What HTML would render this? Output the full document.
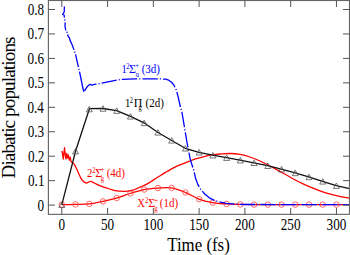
<!DOCTYPE html>
<html><head><meta charset="utf-8"><style>
html,body{margin:0;padding:0;background:#fff;}
svg{display:block;}
text{font-family:"Liberation Serif",serif;}
</style></head><body>
<svg width="350" height="255" viewBox="0 0 350 255">
<rect x="0" y="0" width="350" height="255" fill="#fff"/>
<g fill="none" stroke-linejoin="round">
<path d="M61.80,204.60C64.08,204.57 70.92,204.52 75.50,204.40C80.08,204.28 84.72,204.40 89.30,203.90C93.88,203.40 98.47,202.37 103.00,201.40C107.53,200.43 111.97,199.42 116.50,198.10C121.03,196.78 125.62,194.92 130.20,193.50C134.78,192.08 139.42,190.50 144.00,189.60C148.58,188.70 153.13,188.40 157.70,188.10C162.27,187.80 166.82,187.10 171.40,187.80C175.98,188.50 180.62,190.42 185.20,192.30C189.78,194.18 194.33,197.38 198.90,199.10C203.47,200.82 208.02,201.80 212.60,202.60C217.18,203.40 221.83,203.60 226.40,203.90C230.97,204.20 235.45,204.28 240.00,204.40C244.55,204.52 249.13,204.57 253.70,204.60C258.27,204.63 262.83,204.60 267.40,204.60C271.97,204.60 267.42,204.60 281.10,204.60C294.78,204.60 338.10,204.60 349.50,204.60" stroke="#f00" stroke-width="1.3"/>
<g stroke="#f44" stroke-width="0.8"><circle cx="61.80" cy="204.60" r="2.75"/><circle cx="75.53" cy="204.40" r="2.75"/><circle cx="89.27" cy="203.90" r="2.75"/><circle cx="103.00" cy="201.40" r="2.75"/><circle cx="116.73" cy="198.02" r="2.75"/><circle cx="130.46" cy="193.43" r="2.75"/><circle cx="144.19" cy="189.58" r="2.75"/><circle cx="157.93" cy="188.10" r="2.75"/><circle cx="171.66" cy="187.88" r="2.75"/><circle cx="185.39" cy="192.40" r="2.75"/><circle cx="199.12" cy="199.16" r="2.75"/><circle cx="212.86" cy="202.62" r="2.75"/><circle cx="226.59" cy="203.91" r="2.75"/><circle cx="240.32" cy="204.40" r="2.75"/><circle cx="254.06" cy="204.60" r="2.75"/><circle cx="267.79" cy="204.60" r="2.75"/><circle cx="281.52" cy="204.60" r="2.75"/><circle cx="295.25" cy="204.60" r="2.75"/><circle cx="308.99" cy="204.60" r="2.75"/><circle cx="322.72" cy="204.60" r="2.75"/><circle cx="336.45" cy="204.60" r="2.75"/></g>
<polyline points="61.30,152.00 62.20,151.60 63.30,159.00 64.50,147.70 65.20,154.20 65.90,159.00 66.70,153.30 67.60,158.00 68.40,155.00 69.30,160.20 70.20,157.20 71.00,161.50 72.50,162.80 74.20,164.10" stroke="#f00" stroke-width="1.3"/>
<path d="M74.20,164.10C74.73,165.17 76.27,168.12 77.40,170.50C78.53,172.88 79.93,176.52 81.00,178.40C82.07,180.28 82.88,181.03 83.80,181.80C84.72,182.57 85.70,182.95 86.50,183.00C87.30,183.05 87.90,182.38 88.60,182.10C89.30,181.82 89.75,181.15 90.70,181.30C91.65,181.45 93.08,182.42 94.30,183.00C95.52,183.58 96.55,184.17 98.00,184.80C99.45,185.43 101.08,186.10 103.00,186.80C104.92,187.50 107.50,188.37 109.50,189.00C111.50,189.63 113.15,190.25 115.00,190.60C116.85,190.95 118.82,190.98 120.60,191.10C122.38,191.22 124.13,191.35 125.70,191.30C127.27,191.25 128.78,190.98 130.00,190.80C131.22,190.62 131.77,190.62 133.00,190.20C134.23,189.78 135.90,188.95 137.40,188.30C138.90,187.65 140.43,187.00 142.00,186.30C143.57,185.60 145.22,184.93 146.80,184.10C148.38,183.27 149.93,182.28 151.50,181.30C153.07,180.32 154.63,179.20 156.20,178.20C157.77,177.20 159.33,176.27 160.90,175.30C162.47,174.33 164.03,173.35 165.60,172.40C167.17,171.45 168.73,170.48 170.30,169.60C171.87,168.72 173.50,167.83 175.00,167.10C176.50,166.37 176.87,166.20 179.30,165.20C181.73,164.20 186.73,162.20 189.60,161.10C192.47,160.00 193.93,159.40 196.50,158.60C199.07,157.80 202.35,156.93 205.00,156.30C207.65,155.67 209.90,155.18 212.40,154.80C214.90,154.42 217.07,154.22 220.00,154.00C222.93,153.78 226.67,153.43 230.00,153.50C233.33,153.57 236.67,153.82 240.00,154.40C243.33,154.98 246.67,155.90 250.00,157.00C253.33,158.10 256.67,159.50 260.00,161.00C263.33,162.50 266.67,164.23 270.00,166.00C273.33,167.77 277.17,170.05 280.00,171.60C282.83,173.15 284.62,173.98 287.00,175.30C289.38,176.62 291.53,178.03 294.30,179.50C297.07,180.97 300.50,182.67 303.60,184.10C306.70,185.53 309.82,186.85 312.90,188.10C315.98,189.35 319.02,190.55 322.10,191.60C325.18,192.65 328.30,193.57 331.40,194.40C334.50,195.23 337.68,196.00 340.70,196.60C343.72,197.20 348.03,197.77 349.50,198.00" stroke="#f00" stroke-width="1.3"/>
<polyline points="64.40,6.40 64.20,12.00 62.60,14.50 64.10,15.00 64.60,19.00 65.20,22.00 65.00,26.00 65.90,31.00 67.40,32.60 68.00,35.90 69.50,38.20 70.10,40.60 71.30,42.90 72.20,45.00 74.40,50.90 75.40,53.80 78.30,66.60 79.70,72.50 83.30,90.10 84.00,91.70" stroke="#00f" stroke-width="1.3" stroke-dasharray="12.8,1.8,1.2,1.8,8,1.8,1.2,1.8,16.8,1.8,1.2,1.8,12.9,1.8,1.2,1.8,100,0"/><polyline points="84.00,91.70 85.60,89.10 87.60,86.20 88.60,85.40 90.00,84.30 92.10,85.10 94.30,84.30 97.60,84.00 99.30,83.70 117.10,80.00 122.00,79.30 135.00,78.80 142.80,78.80 150.70,78.80 158.50,78.80 165.60,79.20 168.70,80.20 171.80,82.50 174.20,85.70 176.10,89.60 178.10,96.60 180.50,107.60 181.80,111.50 184.60,128.00 186.90,142.00 188.80,152.00 190.50,160.30 193.90,170.60 195.50,178.00 197.90,184.60 200.70,189.40 205.00,194.20 209.30,197.80 215.00,200.60 220.70,202.20 226.40,203.30 235.00,204.10 245.00,204.50 349.50,204.60" stroke="#00f" stroke-width="1.3" stroke-dasharray="15.4,2,1.2,2" stroke-dashoffset="-1.0"/>
<polyline points="61.80,204.80 75.60,151.00 89.40,108.70 103.00,108.50 116.60,110.60 130.50,116.40 144.00,122.80 157.60,132.20 171.30,140.20 185.20,148.30 199.00,152.30 212.60,155.20 226.40,157.70 240.00,160.20 253.80,162.80 267.50,165.70 281.30,169.20 295.00,172.90 308.70,176.90 322.50,181.30 336.30,185.70 349.50,188.60" stroke="#111" stroke-width="1.3"/>
<g stroke="#555" stroke-width="0.8"><path d="M61.80,202.00L64.80,207.50L58.80,207.50Z"/><path d="M75.53,148.46L78.53,153.96L72.53,153.96Z"/><path d="M89.27,106.31L92.27,111.81L86.27,111.81Z"/><path d="M103.00,105.70L106.00,111.20L100.00,111.20Z"/><path d="M116.73,107.85L119.73,113.35L113.73,113.35Z"/><path d="M130.46,113.58L133.46,119.08L127.46,119.08Z"/><path d="M144.19,120.13L147.19,125.63L141.19,125.63Z"/><path d="M157.93,129.59L160.93,135.09L154.93,135.09Z"/><path d="M171.66,137.61L174.66,143.11L168.66,143.11Z"/><path d="M185.39,145.56L188.39,151.06L182.39,151.06Z"/><path d="M199.12,149.53L202.12,155.03L196.12,155.03Z"/><path d="M212.86,152.45L215.86,157.95L209.86,157.95Z"/><path d="M226.59,154.93L229.59,160.43L223.59,160.43Z"/><path d="M240.32,157.46L243.32,162.96L237.32,162.96Z"/><path d="M254.06,160.05L257.06,165.55L251.06,165.55Z"/><path d="M267.79,162.97L270.79,168.47L264.79,168.47Z"/><path d="M281.52,166.46L284.52,171.96L278.52,171.96Z"/><path d="M295.25,170.17L298.25,175.67L292.25,175.67Z"/><path d="M308.99,174.19L311.99,179.69L305.99,179.69Z"/><path d="M322.72,178.57L325.72,184.07L319.72,184.07Z"/><path d="M336.45,182.93L339.45,188.43L333.45,188.43Z"/></g>
</g>
<rect x="48.4" y="0.5" width="301.1" height="213.85" fill="none" stroke="#666" stroke-width="1.15"/>
<path d="M61.80,214.5V208M61.80,0.5V7M107.57,214.5V208M107.57,0.5V7M153.35,214.5V208M153.35,0.5V7M199.12,214.5V208M199.12,0.5V7M244.90,214.5V208M244.90,0.5V7M290.68,214.5V208M290.68,0.5V7M336.45,214.5V208M336.45,0.5V7M48.5,205.10H55M349.5,205.10H343M48.5,180.65H55M349.5,180.65H343M48.5,156.20H55M349.5,156.20H343M48.5,131.75H55M349.5,131.75H343M48.5,107.30H55M349.5,107.30H343M48.5,82.85H55M349.5,82.85H343M48.5,58.40H55M349.5,58.40H343M48.5,33.95H55M349.5,33.95H343M48.5,9.50H55M349.5,9.50H343" stroke="#555" stroke-width="1" fill="none"/>
<g fill="#000">
<text transform="translate(37.61,210.67) scale(0.790,1)" font-size="16.70" fill="#000">0</text><text transform="translate(28.00,186.18) scale(0.790,1)" font-size="16.70" fill="#000">0.1</text><text transform="translate(27.94,161.73) scale(0.790,1)" font-size="16.70" fill="#000">0.2</text><text transform="translate(27.72,137.28) scale(0.790,1)" font-size="16.70" fill="#000">0.3</text><text transform="translate(27.41,112.83) scale(0.790,1)" font-size="16.70" fill="#000">0.4</text><text transform="translate(27.72,88.38) scale(0.790,1)" font-size="16.70" fill="#000">0.5</text><text transform="translate(27.60,63.93) scale(0.790,1)" font-size="16.70" fill="#000">0.6</text><text transform="translate(27.59,39.48) scale(0.790,1)" font-size="16.70" fill="#000">0.7</text><text transform="translate(27.71,15.03) scale(0.790,1)" font-size="16.70" fill="#000">0.8</text>
<text transform="translate(58.50,229.65) scale(0.820,1)" font-size="16.10" fill="#000">0</text><text transform="translate(100.97,229.65) scale(0.820,1)" font-size="16.10" fill="#000">50</text><text transform="translate(143.45,229.65) scale(0.820,1)" font-size="16.10" fill="#000">100</text><text transform="translate(189.22,229.65) scale(0.820,1)" font-size="16.10" fill="#000">150</text><text transform="translate(235.00,229.65) scale(0.820,1)" font-size="16.10" fill="#000">200</text><text transform="translate(280.77,229.65) scale(0.820,1)" font-size="16.10" fill="#000">250</text><text transform="translate(326.55,229.65) scale(0.820,1)" font-size="16.10" fill="#000">300</text>
</g>
<text transform="translate(167.20,251.00) scale(0.874,1)" font-size="19.30" fill="#000">Time (fs)</text>
<text transform="translate(14.5,178.0) rotate(-90)" font-size="19.2" textLength="142.1" lengthAdjust="spacing" x="-0.55">Diabatic populations</text>
<text transform="translate(121.51,72.70) scale(0.850,1)" font-size="12.60" fill="#00f">1</text><text transform="translate(126.27,68.80) scale(0.900,1)" font-size="7.20" fill="#00f">2</text><text transform="translate(129.08,72.70) scale(0.950,1)" font-size="12.60" fill="#00f">Σ</text><text transform="translate(135.66,76.70) scale(0.900,1)" font-size="7.40" fill="#00f">u</text><text transform="translate(135.13,67.90) scale(0.900,1)" font-size="7.20" fill="#00f">+</text><text transform="translate(141.67,72.70) scale(0.875,1)" font-size="12.60" fill="#00f">(3d)</text><text transform="translate(124.91,106.70) scale(0.850,1)" font-size="12.60" fill="#000">1</text><text transform="translate(129.77,102.80) scale(0.900,1)" font-size="7.20" fill="#000">2</text><text transform="translate(133.71,106.70) scale(0.950,1)" font-size="12.60" fill="#000">Π</text><text transform="translate(138.56,110.30) scale(0.900,1)" font-size="7.40" fill="#000">g</text><text transform="translate(145.47,106.70) scale(0.875,1)" font-size="12.60" fill="#000">(2d)</text><text transform="translate(86.88,177.30) scale(0.850,1)" font-size="12.60" fill="#f00">2</text><text transform="translate(92.37,172.80) scale(0.900,1)" font-size="7.20" fill="#f00">2</text><text transform="translate(95.18,177.30) scale(0.950,1)" font-size="12.60" fill="#f00">Σ</text><text transform="translate(100.66,180.90) scale(0.900,1)" font-size="7.40" fill="#f00">g</text><text transform="translate(100.83,172.40) scale(0.900,1)" font-size="7.20" fill="#f00">+</text><text transform="translate(106.67,177.30) scale(0.875,1)" font-size="12.60" fill="#f00">(4d)</text><text transform="translate(137.31,206.70) scale(0.850,1)" font-size="12.60" fill="#f00">X</text><text transform="translate(145.07,203.10) scale(0.900,1)" font-size="7.20" fill="#f00">2</text><text transform="translate(148.28,206.70) scale(0.950,1)" font-size="12.60" fill="#f00">Σ</text><text transform="translate(154.16,210.80) scale(0.900,1)" font-size="7.40" fill="#f00">g</text><text transform="translate(154.13,202.70) scale(0.900,1)" font-size="7.20" fill="#f00">+</text><text transform="translate(159.77,206.70) scale(0.875,1)" font-size="12.60" fill="#f00">(1d)</text>
</svg>
</body></html>
